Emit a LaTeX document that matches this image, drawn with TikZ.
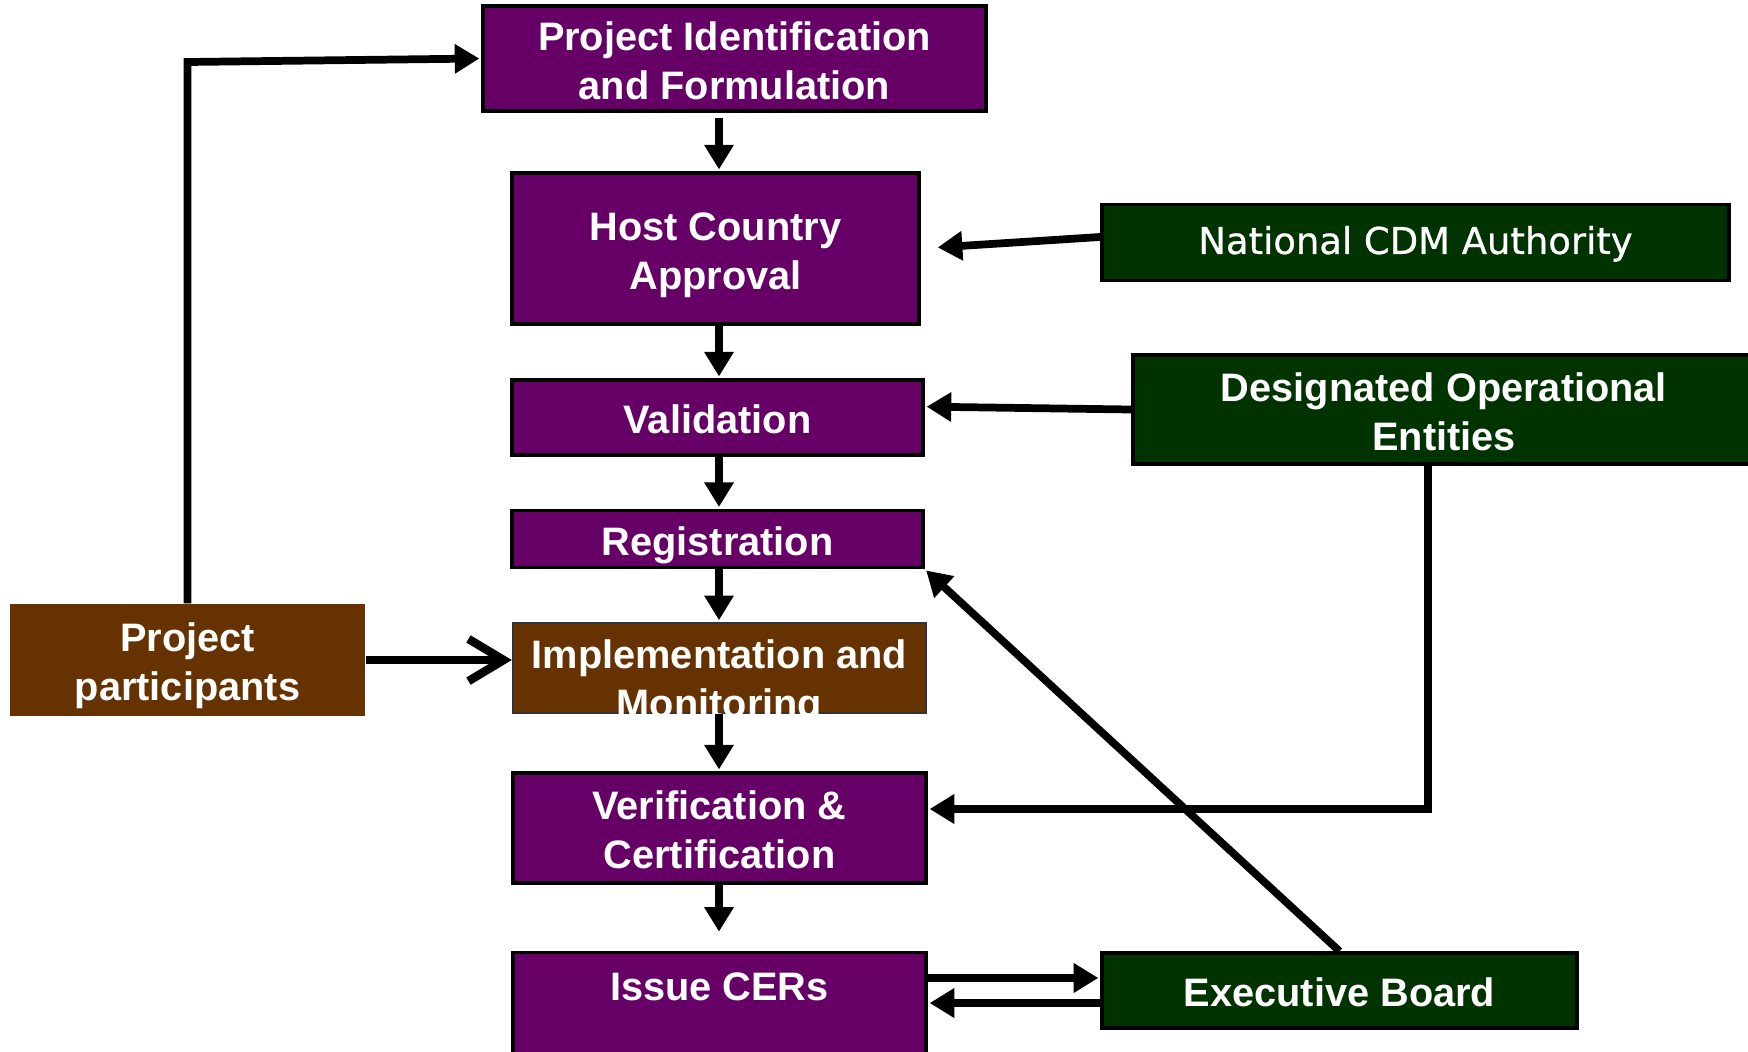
\documentclass[tikz,border=0pt]{standalone}
\usepackage{fontspec}
\setmainfont{Liberation Sans}
\newfontfamily\cdmfont[FakeBold=0.7]{DejaVu Sans}
\usepackage{tikz}
\usetikzlibrary{arrows.meta}
\definecolor{cdmpurple}{RGB}{102,0,102}
\definecolor{cdmbrown}{RGB}{102,51,0}
\definecolor{cdmgreen}{RGB}{0,51,0}
% fixed line tops and bottoms, so that every box text sits alike
\newcommand{\boxtop}{\rule{0pt}{11.8pt}}
\newcommand{\cdmtop}{\rule{0pt}{9.1pt}}
\newcommand{\boxbot}{\rule[-2.6pt]{0pt}{2.6pt}}

\begin{document}
\begin{tikzpicture}[x=0.01cm,y=-0.01cm,>={Triangle[length=7pt,width=8pt]},
  box text/.style={text=white,font=\fontsize{11.3}{13.9}\selectfont\bfseries,align=center,inner sep=0pt},
  phase node/.style={rectangle,fill=cdmpurple,draw=black,line width=1pt,box text},
  impl node/.style={rectangle,fill=cdmbrown,draw=black!80,line width=0.6pt,box text},
  party node/.style={rectangle,fill=cdmbrown,box text},
  body node/.style={rectangle,fill=cdmgreen,draw=black,line width=1pt,box text},
  trans/.style={->,line width=2.2pt,shorten >=0.5pt}]

  \clip (0,0) rectangle (1748,1051);

  \node[phase node,minimum width=5.03cm,minimum height=1.05cm] (pif)   at (734.5,58.5) {\boxtop Project Identification\\and Formulation\boxbot};
  \node[phase node,minimum width=4.07cm,minimum height=1.51cm] (hca)   at (715.5,248.5) {\boxtop Host Country\\Approval\boxbot};
  \node[phase node,minimum width=4.11cm,minimum height=0.75cm] (val)   at (717.5,417.5) {\boxtop Validation\boxbot};
  \node[phase node,minimum width=4.11cm,minimum height=0.57cm] (reg)   at (717.5,539)  {\boxtop Registration\boxbot};
  \node[impl node,minimum width=4.13cm,minimum height=0.9cm]   (impl)  at (719.5,668)  {};
  \node[phase node,minimum width=4.13cm,minimum height=1.1cm]  (ver)   at (719.5,828)  {\boxtop Verification \&\\Certification\boxbot};
  \node[phase node,minimum width=4.13cm,minimum height=1.47cm] (issue) at (719.5,1026) {};
  \node[box text] (issuetext) at (719.5,984.7) {\boxtop Issue CERs\boxbot};
  \node[party node,minimum width=3.55cm,minimum height=1.12cm] (pp)  at (187.5,660)  {\boxtop Project\\participants\boxbot};
  \node[body node,minimum width=6.27cm,minimum height=0.76cm,
        font=\fontsize{10.5}{13}\cdmfont] (nca) at (1415.5,242.5) {\cdmtop National CDM Authority\boxbot};
  \node[body node,minimum width=6.22cm,minimum height=1.09cm]  (doe)   at (1444,409.5) {\boxtop Designated Operational\\Entities\boxbot};
  \node[body node,minimum width=4.75cm,minimum height=0.75cm]  (eb)    at (1339.5,990.5) {\boxtop Executive Board\boxbot};

  % text of the implementation box runs over its lower edge
  \begin{scope}
    \clip (impl.south west) rectangle (impl.north east);
    \node[box text] (impltext) at (719.5,676.5) {\boxtop Implementation and\\Monitoring\boxbot};
  \end{scope}

  \coordinate (col) at (719,0);
  \coordinate (ppbend) at (187.5,62);
  \coordinate (doebend) at (1428,809);

  \path[trans]
    (pif.south -| col) edge [shorten <=1.5pt] (hca.north -| col)
    (hca.south -| col) edge (val.north -| col)
    (val.south -| col) edge (reg.north -| col)
    (reg.south -| col) edge (impl.north -| col)
    (impl.south -| col) edge (ver.north -| col)
    (ver.south -| col) edge [shorten >=5.4pt] (issue.north -| col)
    (nca.179) edge [shorten >=4.8pt] (hca.east)
    (doe.west) edge (val.3)
    (eb.north) edge (reg.south east)
    (issue.east |- eb.177) edge (eb.177)
    (eb.183) edge (issue.east |- eb.183);
  \draw[trans] (pp.north) -- (ppbend) -- (pif.west);
  \draw[trans] (doebend |- doe.south) -- (doebend) -- (ver.east |- doebend);
  \draw[line width=2.2pt,-{Straight Barb[length=10pt,width=12pt,line width=2.4pt]}]
    (pp.east) -- (pp.east -| impl.west);
\end{tikzpicture}
\end{document}
